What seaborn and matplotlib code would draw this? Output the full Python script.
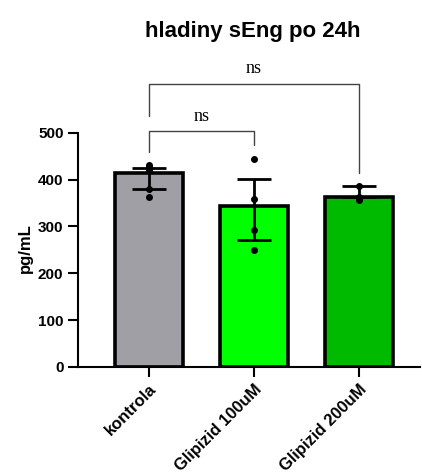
import seaborn as sns
import matplotlib
matplotlib.use("Agg")
from matplotlib import pyplot as plt

groups = ["kontrola", "Glipizid 100uM", "Glipizid 200uM"]
means = [414, 344, 362]
err_low = [34, 73, 0]
err_high = [11, 57, 24]
colors = ["#A19FA6", "#00FF00", "#00BA00"]
pts_group = [0, 0, 0, 0, 0, 1, 1, 1, 1, 2, 2, 2, 2]
pts_value = [432, 426, 420, 381, 362, 445, 358, 293, 249, 386, 364, 360, 357]
# significance brackets: (left bar, right bar, top, left drop, right drop, label)
brackets = [(0, 1, 503, 460, 475, "ns"), (0, 2, 605, 535, 414, "ns")]

sns.set_style("ticks")
plt.rcParams["font.family"] = ["Liberation Sans", "DejaVu Sans"]
plt.rcParams["font.weight"] = "bold"
plt.rcParams["text.color"] = "black"
plt.rcParams["xtick.color"] = "black"
plt.rcParams["ytick.color"] = "black"
plt.rcParams["axes.edgecolor"] = "black"

fig = plt.figure(figsize=(4.22, 4.76), dpi=100)
ax = fig.add_axes([0.185, 0.229, 0.81, 0.492])

sns.barplot(x=groups, y=means, hue=groups, palette=colors, legend=False,
            saturation=1, width=0.64, edgecolor="black", linewidth=2.6, ax=ax)
ax.errorbar(x=range(3), y=means, yerr=[err_low, err_high], fmt="none",
            ecolor="black", elinewidth=2, capsize=12, capthick=2, zorder=4)
ax.scatter(pts_group, pts_value, s=16, color="black", zorder=5)

for a, b, top, ya, yb, lab in brackets:
    ax.plot([a, a, b, b], [ya, top, top, yb], color="#444444", lw=1,
            clip_on=False)
    ax.text((a + b) / 2, top + 14, lab, ha="center", va="bottom",
            fontsize=13, fontweight="normal", family="Liberation Serif")

ax.set_xlim(-0.676, 2.58)
ax.set_ylim(0, 500)
ax.set_yticks([0, 100, 200, 300, 400, 500])
sns.despine(ax=ax)
ax.spines["left"].set_linewidth(1.5)
ax.spines["bottom"].set_linewidth(1.5)
ax.tick_params(axis="both", width=1.5, length=7, labelsize=11, color="black",
               labelcolor="black")
ax.set_xticks(range(3))
ax.set_xticklabels(groups, rotation=45, ha="right", va="top",
                   rotation_mode="anchor", fontweight="bold", fontsize=12)
for t in ax.get_yticklabels():
    t.set_fontweight("bold")
ax.set_ylabel("")
fig.text(25 / 422, 1 - 248 / 476, "pg/mL", rotation=90, ha="center",
         va="center", fontsize=12, fontweight="bold")
fig.text(253 / 422, 1 - 32 / 476, "hladiny sEng po 24h", ha="center",
         va="center", fontsize=16, fontweight="bold")

fig.savefig("out.png", dpi=100)
